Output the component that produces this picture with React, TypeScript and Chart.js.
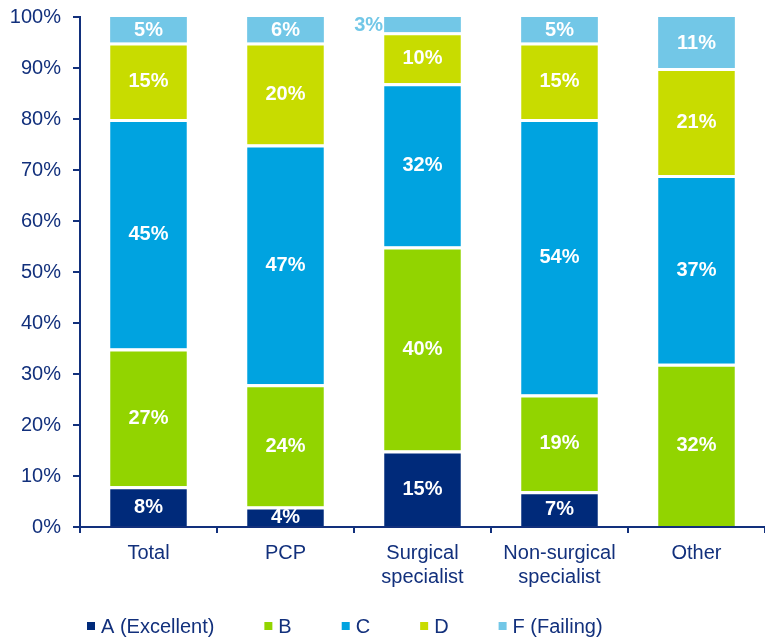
import React, { useEffect, useRef } from "react";
import { Chart, registerables } from "chart.js";

Chart.register(...registerables);

const categories: (string | string[])[] = [
  "Total",
  "PCP",
  ["Surgical", "specialist"],
  ["Non-surgical", "specialist"],
  "Other",
];
const seriesNames = ["A (Excellent)", "B", "C", "D", "F (Failing)"];
const gradeA = [8, 4, 15, 7, 0];
const gradeB = [27, 24, 40, 19, 32];
const gradeC = [45, 47, 32, 54, 37];
const gradeD = [15, 20, 10, 15, 21];
const gradeF = [5, 6, 3, 5, 11];
const yTicks = [0, 10, 20, 30, 40, 50, 60, 70, 80, 90, 100];

const colors = ["#002a7a", "#92d400", "#00a3e0", "#c8dc00", "#72c7e7"];
const NAVY = "#12307c";
const FONT = "'Liberation Sans', Arial, sans-serif";

const labelPlugin = {
  id: "segLabels",
  afterDatasetsDraw(chart: any) {
    const { ctx, chartArea } = chart;
    ctx.save();
    ctx.font = `bold 20px ${FONT}`;
    ctx.textBaseline = "middle";
    chart.data.datasets.forEach((ds: any, di: number) => {
      const meta = chart.getDatasetMeta(di);
      meta.data.forEach((bar: any, i: number) => {
        const v = ds.data[i];
        if (!v) return;
        const top = Math.max(bar.y, chartArea.top);
        const bottom = Math.min(bar.base, chartArea.bottom);
        const h = bottom - top;
        const cy = (top + bottom) / 2;
        const text = v + "%";
        if (h < 18) {
          ctx.fillStyle = ds.backgroundColor;
          ctx.textAlign = "right";
          ctx.fillText(text, bar.x - bar.width / 2 - 1, cy + 1);
        } else {
          ctx.fillStyle = "#ffffff";
          ctx.textAlign = "center";
          ctx.fillText(text, bar.x, cy + 1);
        }
      });
    });
    ctx.restore();
  },
};

const legendPlugin = {
  id: "customLegend",
  afterDraw(chart: any) {
    const { ctx } = chart;
    ctx.save();
    ctx.font = `20px ${FONT}`;
    ctx.textBaseline = "middle";
    ctx.textAlign = "left";
    let x = 87;
    const y = 626;
    chart.data.datasets.forEach((ds: any) => {
      ctx.fillStyle = ds.backgroundColor;
      ctx.fillRect(x, y - 4, 8, 8);
      ctx.fillStyle = NAVY;
      ctx.fillText(ds.label, x + 14, y + 1);
      x += 14 + ctx.measureText(ds.label).width + 50;
    });
    ctx.restore();
  },
};

export default function App() {
  const ref = useRef<HTMLCanvasElement>(null);
  useEffect(() => {
    if (!ref.current) return;
    const values = [gradeA, gradeB, gradeC, gradeD, gradeF];
    const last = values.length - 1;
    const chart = new Chart(ref.current, {
      type: "bar",
      data: {
        labels: categories as any,
        datasets: values.map((d, i) => ({
          label: seriesNames[i],
          data: d,
          backgroundColor: colors[i],
          borderColor: "#ffffff",
          borderWidth: { top: i === last ? 0 : 3, bottom: 0, left: 0, right: 0 },
          borderSkipped: "start",
          categoryPercentage: 1,
          barPercentage: 0.56,
        })),
      },
      options: {
        responsive: false,
        animation: false,
        layout: { padding: { top: 17, right: 0, left: 0, bottom: 0 } },
        plugins: {
          legend: { display: false },
          tooltip: { enabled: false },
        },
        scales: {
          x: {
            stacked: true,
            grid: {
              drawOnChartArea: false,
              drawTicks: true,
              tickLength: 6,
              color: NAVY,
              lineWidth: 2,
            },
            border: { color: NAVY, width: 2 },
            ticks: {
              color: NAVY,
              font: { family: FONT, size: 20, lineHeight: 1.2 },
              padding: 8,
              maxRotation: 0,
              autoSkip: false,
            },
            afterFit(scale: any) {
              scale.height = 111;
              scale.paddingLeft = 0;
              scale.paddingRight = 0;
            },
          },
          y: {
            stacked: true,
            min: 0,
            max: 100,
            afterBuildTicks(scale: any) {
              scale.ticks = yTicks.map((v) => ({ value: v }));
            },
            grid: {
              drawOnChartArea: false,
              drawTicks: true,
              tickLength: 7,
              color: NAVY,
              lineWidth: 2,
            },
            border: { color: NAVY, width: 2 },
            ticks: {
              color: NAVY,
              font: { family: FONT, size: 20 },
              padding: 12,
              callback: (v: any) => v + "%",
            },
            afterFit(scale: any) {
              scale.width = 80;
              scale.paddingTop = 0;
              scale.paddingBottom = 0;
            },
          },
        },
      },
      plugins: [labelPlugin, legendPlugin],
    });
    return () => chart.destroy();
  }, []);
  return (
    <div style={{ position: "fixed", left: 0, top: 0, width: 765, height: 638, background: "#fff" }}>
      <canvas ref={ref} width={765} height={638} style={{ display: "block" }} />
    </div>
  );
}
